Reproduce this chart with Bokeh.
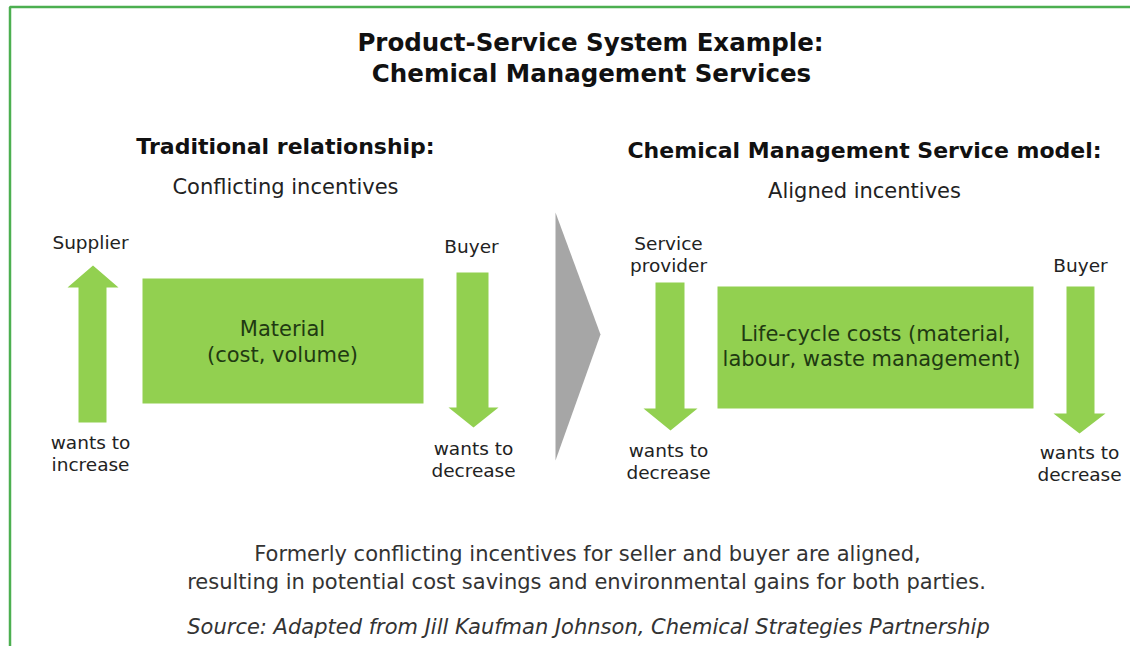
from bokeh.plotting import figure
from bokeh.models import Range1d
from bokeh.core.properties import value
from bokeh.embed import file_html
from bokeh.resources import INLINE

FONT = "DejaVu Sans"

# ---- content ----
title_lines = ["Product-Service System Example:", "Chemical Management Services"]
headings = ["Traditional relationship:", "Chemical Management Service model:"]
subheadings = ["Conflicting incentives", "Aligned incentives"]
box_texts = [["Material", "(cost, volume)"],
             ["Life-cycle costs (material,", "labour, waste management)"]]
actor_labels = [["Supplier"], ["Buyer"], ["Service", "provider"], ["Buyer"]]
want_labels = [["wants to", "increase"], ["wants to", "decrease"],
               ["wants to", "decrease"], ["wants to", "decrease"]]
arrow_dirs = ["up", "down", "down", "down"]
footer_lines = ["Formerly conflicting incentives for seller and buyer are aligned,",
                "resulting in potential cost savings and environmental gains for both parties."]
source_line = "Source: Adapted from Jill Kaufman Johnson, Chemical Strategies Partnership"

# ---- geometry (image pixel coordinates) ----
arrow_shaft_x = [(78, 106), (456, 488), (655, 684), (1066, 1094)]
arrow_head_x = [(67, 118), (448, 498), (643, 697), (1053, 1105)]
arrow_y = [(265, 287, 422), (272, 407, 427), (282, 408, 430), (286, 413, 433)]  # (start, head, tip/end)
actor_xy = [(90, 242), (471, 246), (668, 243), (1080, 265)]
want_xy = [(90, 442), (473, 448), (668, 450), (1079, 452)]
box_x = [(142, 423), (717, 1033)]
box_y = [(278, 403), (286, 408)]

GREEN = "#92d050"
TEXT = "#222222"
BOXTEXT = "#1f3a12"

p = figure(width=1130, height=646, output_backend="svg", toolbar_location=None,
           x_range=Range1d(0, 1130), y_range=Range1d(646, 0),
           min_border=0, border_fill_color="white", background_fill_color="white")
p.axis.visible = False
p.grid.visible = False
p.outline_line_color = None

# frame
p.line(x=[9.5, 9.5, 1130], y=[646, 6.5, 6.5], line_color="#4caf50", line_width=2.5)

# chevron
p.patch(x=[555, 600, 555], y=[212, 334, 460], fill_color="#a6a6a6", line_color=None)

# boxes
for (x0, x1), (y0, y1) in zip(box_x, box_y):
    p.quad(left=x0, right=x1, top=y0, bottom=y1, fill_color=GREEN, line_color=None)

# arrows
for d, (sx0, sx1), (hx0, hx1), (ya, yb, yc) in zip(arrow_dirs, arrow_shaft_x, arrow_head_x, arrow_y):
    cx = (hx0 + hx1) / 2
    if d == "up":
        xs = [cx, hx1, sx1, sx1, sx0, sx0, hx0]
        ys = [ya, yb, yb, yc, yc, yb, yb]
    else:
        xs = [sx0, sx1, sx1, hx1, cx, hx0, sx0]
        ys = [ya, ya, yb, yb, yc, yb, yb]
    p.patch(x=xs, y=ys, fill_color=GREEN, line_color=None)


def txt(x, y, s, size, color=TEXT, style="normal", align="center"):
    p.text(x=[x], y=[y], text=[s], text_font=value(FONT), text_font_size=size,
           text_color=color, text_font_style=style, text_align=align,
           text_baseline="middle")


# title
txt(590, 42, title_lines[0], "24.5px", "#111111", "bold")
txt(591, 73, title_lines[1], "24.5px", "#111111", "bold")

# headings
txt(285, 146, headings[0], "22px", "#111111", "bold")
txt(864, 150, headings[1], "22px", "#111111", "bold")
txt(285, 186, subheadings[0], "21px")
txt(864, 190, subheadings[1], "21px")

# box texts
box_text_xy = [((282, 328), (282, 354)), ((875, 333), (871, 358))]
for lines, pts in zip(box_texts, box_text_xy):
    for s, (x, y) in zip(lines, pts):
        txt(x, y, s, "21px", BOXTEXT)

# actor labels
for lines, (x, y) in zip(actor_labels, actor_xy):
    for i, s in enumerate(lines):
        txt(x, y + i * 22, s, "18.5px")

for lines, (x, y) in zip(want_labels, want_xy):
    for i, s in enumerate(lines):
        txt(x, y + i * 22, s, "18.5px")

# footer
txt(587, 553, footer_lines[0], "21px", "#333333")
txt(586, 581, footer_lines[1], "21px", "#333333")
txt(588, 626, source_line, "21px", "#333333", "italic")

open("out.html", "w").write(file_html(p, INLINE))
